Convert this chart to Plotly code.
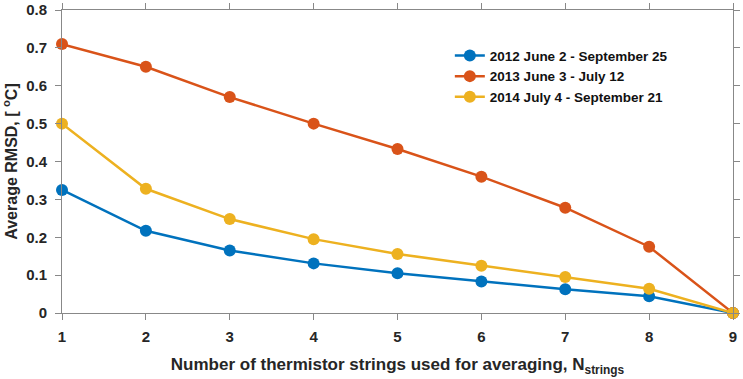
import plotly.graph_objects as go

n_strings = [1, 2, 3, 4, 5, 6, 7, 8, 9]
rmsd_2012 = [0.325, 0.217, 0.165, 0.131, 0.105, 0.083, 0.063, 0.044, 0.0]
rmsd_2013 = [0.710, 0.650, 0.570, 0.500, 0.433, 0.360, 0.278, 0.175, 0.0]
rmsd_2014 = [0.500, 0.328, 0.248, 0.195, 0.156, 0.125, 0.095, 0.064, 0.0]
names = ["2012 June 2 - September 25", "2013 June 3 - July 12", "2014 July 4 - September 21"]
colors = ["#0072BD", "#D95319", "#EDB120"]
y_ticks = [0, 0.1, 0.2, 0.3, 0.4, 0.5, 0.6, 0.7, 0.8]
y_ticktext = ["0", "0.1", "0.2", "0.3", "0.4", "0.5", "0.6", "0.7", "0.8"]

fig = go.Figure()
for ys, nm, c in zip([rmsd_2012, rmsd_2013, rmsd_2014], names, colors):
    fig.add_trace(go.Scatter(x=n_strings, y=ys, name=nm, mode="lines+markers",
                             line=dict(color=c, width=2.5),
                             marker=dict(color=c, size=12), cliponaxis=False))

fam = "Liberation Sans, Arial, sans-serif"
tickfont = dict(size=15, family=fam, color="#262626", weight="bold")
axis_common = dict(showline=True, linecolor="#888888", linewidth=1, mirror="ticks",
                   ticks="outside", ticklen=6, tickcolor="#888888", showgrid=False,
                   zeroline=False, tickfont=tickfont, automargin=False)
fig.update_layout(
    width=743, height=379,
    margin=dict(l=62, r=10, t=10, b=66, autoexpand=False),
    plot_bgcolor="white", paper_bgcolor="white",
    font=dict(family=fam, color="#262626", size=15),
    showlegend=True,
    legend=dict(x=0.578, y=0.90, xanchor="left", yanchor="top",
                font=dict(size=13.5, family=fam, color="#111111", weight="bold"),
                bgcolor="rgba(0,0,0,0)", itemwidth=30, tracegroupgap=0),
    xaxis=dict(range=[1, 9], tickvals=n_strings, ticklabelstandoff=4, **axis_common,
               title=dict(text="Number of thermistor strings used for averaging, N<sub>strings</sub>",
                          standoff=14, font=dict(size=17, family=fam, color="#262626", weight="bold"))),
    yaxis=dict(range=[0, 0.8], tickvals=y_ticks, ticktext=y_ticktext, ticklabelstandoff=5, **axis_common,
               title=dict(text="Average RMSD, [ <sup>o</sup>C]", standoff=4,
                          font=dict(size=16, family=fam, color="#262626", weight="bold"))),
)
fig.write_html("out.html", config={"displayModeBar": False},
               post_script="document.body.style.margin='0';document.body.style.padding='0';")
